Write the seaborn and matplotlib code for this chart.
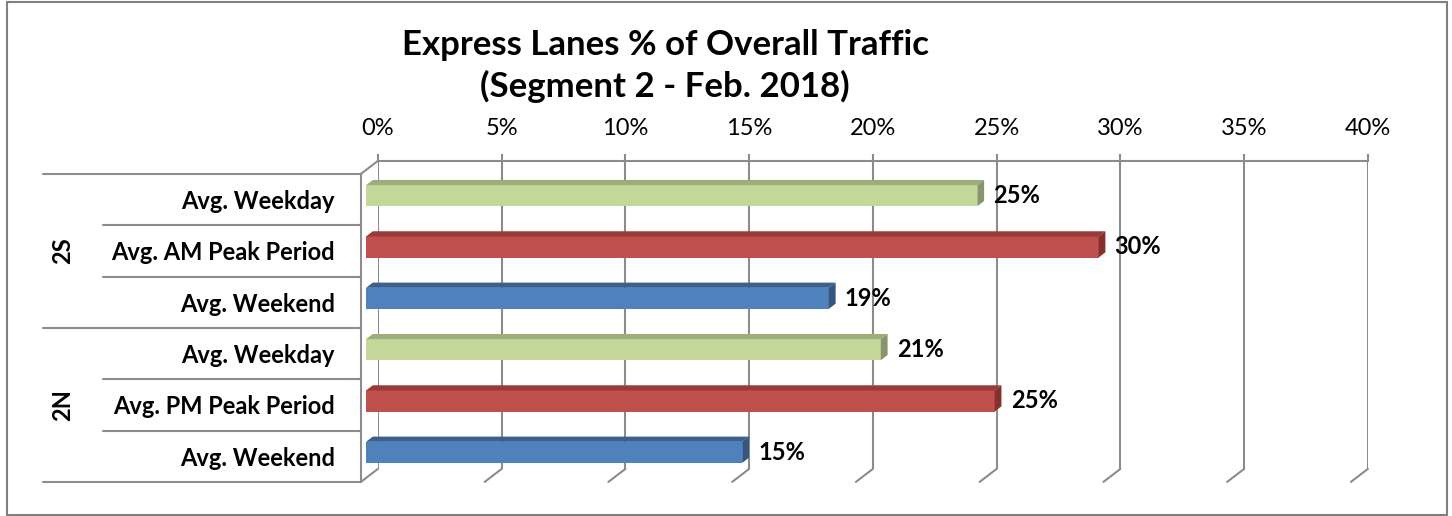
import numpy as np
import pandas as pd
import matplotlib
matplotlib.use("Agg")
import matplotlib.pyplot as plt
import seaborn as sns
from matplotlib.lines import Line2D
from matplotlib.patches import Polygon, Rectangle
from matplotlib.transforms import ScaledTranslation

# ---------------- data ----------------
segments = ["2S", "2S", "2S", "2N", "2N", "2N"]
periods = ["Avg. Weekday", "Avg. AM Peak Period", "Avg. Weekend",
           "Avg. Weekday", "Avg. PM Peak Period", "Avg. Weekend"]
period_types = ["Weekday", "Peak", "Weekend", "Weekday", "Peak", "Weekend"]
shares = [24.7, 29.6, 18.7, 20.8, 25.4, 15.2]
x_ticks = [0, 5, 10, 15, 20, 25, 30, 35, 40]
x_tick_labels = ["0%", "5%", "10%", "15%", "20%", "25%", "30%", "35%", "40%"]
title = "Express Lanes % of Overall Traffic\n(Segment 2 - Feb. 2018)"

front_colors = {"Weekday": "#C4D79B", "Peak": "#C0504D", "Weekend": "#4F81BD"}
top_colors = {"Weekday": "#9DAD7B", "Peak": "#973A38", "Weekend": "#3A6090"}
side_colors = {"Weekday": "#86956A", "Peak": "#86302E", "Weekend": "#33557F"}
GRID = "#8C8C8C"

keys = [f"{s} | {p}" for s, p in zip(segments, periods)]
df = pd.DataFrame({"key": keys, "share": shares, "type": period_types})

# ---------------- figure ----------------
W, H, DPI = 1452, 516, 100
sns.set_theme(style="white")
plt.rcParams["font.family"] = ["Lato", "DejaVu Sans"]

fig = plt.figure(figsize=(W / DPI, H / DPI), dpi=DPI)
fig.patch.set_facecolor("white")

DX, DY = 17.0, 13.0          # depth vector in display px (right, up)
BAR_F, BAR_B = 0.3, 0.7      # bar front/back depth fraction
LBL = 17


def rect(l, t, w, h):
    return [l / W, (H - t - h) / H, w / W, h / H]


AXL, AXT, AXW, AXH = 366, 170, 990, 308
ax_back = fig.add_axes(rect(AXL + BAR_B * DX, AXT - BAR_B * DY, AXW, AXH), zorder=0)
ax = fig.add_axes(rect(AXL, AXT, AXW, AXH), zorder=2)
ax.set_facecolor("none")

n = len(shares)
ylims = (n - 0.5, -0.5)

# back wall: gridlines and top ticks
ax_back.set_xlim(0, 40)
ax_back.set_ylim(*ylims)
ax_back.set_xticks(x_ticks)
ax_back.set_xticklabels(x_tick_labels)
ax_back.set_yticks([])
ax_back.xaxis.tick_top()
ax_back.tick_params(axis="x", length=5, width=1.5, color=GRID, pad=11,
                    labelsize=17, labelcolor="black", top=True, bottom=False)
ax_back.grid(axis="x", color=GRID, linewidth=1.5)
for s in ["left", "right", "bottom"]:
    ax_back.spines[s].set_visible(False)
ax_back.spines["top"].set_color(GRID)
ax_back.spines["top"].set_linewidth(1.5)

# bars (front faces)
sns.barplot(data=df, x="share", y="key", hue="type", order=keys,
            palette=front_colors, dodge=False, width=0.41, orient="h",
            legend=False, saturation=1, linewidth=0, ax=ax)
ax.set_xlim(0, 40)
ax.set_ylim(*ylims)
ax.xaxis.set_visible(False)
for s in ax.spines.values():
    s.set_visible(False)
ax.set_ylabel("")
ax.set_yticks(range(n))
ax.set_yticklabels(periods, fontweight="bold")
ax.tick_params(axis="y", length=0, pad=31 * 0.72, labelsize=LBL, labelcolor="black")
for lab in ax.get_yticklabels():
    lab.set_transform(lab.get_transform() + ScaledTranslation(0, -4 / DPI, fig.dpi_scale_trans))

inv = ax.transData.inverted()
ddx, ddy = (BAR_B - BAR_F) * DX, (BAR_B - BAR_F) * DY
for p in ax.patches:
    x0, y0 = p.get_x(), p.get_y()
    x1, y1 = x0 + p.get_width(), y0 + p.get_height()
    if p.get_width() <= 0:
        continue
    idx = int(round((y0 + y1) / 2))
    t = period_types[idx]
    (dx0, dya), (dx1, dyb) = ax.transData.transform([(x0, y0), (x1, y1)])
    ytop, ybot = max(dya, dyb), min(dya, dyb)
    top = [(dx0, ytop), (dx1, ytop), (dx1 + ddx, ytop + ddy), (dx0 + ddx, ytop + ddy)]
    side = [(dx1, ybot), (dx1, ytop), (dx1 + ddx, ytop + ddy), (dx1 + ddx, ybot + ddy)]
    ax.add_patch(Polygon(inv.transform(top), closed=True, facecolor=top_colors[t],
                         edgecolor="none", zorder=3, clip_on=False))
    ax.add_patch(Polygon(inv.transform(side), closed=True, facecolor=side_colors[t],
                         edgecolor="none", zorder=3, clip_on=False))

# data labels
for i, v in enumerate(shares):
    ax.annotate(f"{round(v)}%", xy=(v, i), xytext=(16 * 0.72, 0),
                textcoords="offset points", ha="left", va="center",
                fontweight="bold", fontsize=LBL, color="black")


# ---------------- 3D frame lines ----------------
def front_pt(x, y):
    d = ax.transData.transform((x, y))
    return (d[0] - BAR_F * DX, d[1] - BAR_F * DY)


def back_pt(x, y):
    d = ax.transData.transform((x, y))
    return (d[0] + (1 - BAR_F) * DX, d[1] + (1 - BAR_F) * DY)


def fig_line(p, q, **kw):
    fig.add_artist(Line2D([p[0] / W, q[0] / W], [p[1] / H, q[1] / H],
                          transform=fig.transFigure, color=GRID, linewidth=1.5, **kw))


ytop_b, ybot_b = -0.5, n - 0.5
fig_line(front_pt(0, ytop_b), front_pt(0, ybot_b))
fig_line(front_pt(0, ytop_b), back_pt(0, ytop_b))
for t in x_ticks:
    fig_line(back_pt(t, ybot_b), front_pt(t, ybot_b))

group_edges = [-0.5, 2.5, 5.5]
for b in np.arange(-0.5, n, 1.0):
    p = front_pt(0, b)
    xl = 43 if any(abs(b - g) < 1e-6 for g in group_edges) else 103
    fig_line(p, (xl, p[1]))

# group labels
for seg, mid in [("2S", 1), ("2N", 4)]:
    yc = front_pt(0, mid)[1]
    fig.text(63 / W, yc / H, seg, rotation=90, ha="center", va="center",
             fontweight="bold", fontsize=LBL, color="black")

# title
fig.text(665 / W, 1 - 66 / H, title, ha="center", va="center",
         fontweight="bold", fontsize=25, linespacing=1.3, color="black")

# outer border
fig.patches.append(Rectangle((7 / W, 1 / H), 1440 / W, 513 / H, transform=fig.transFigure,
                             fill=False, edgecolor="#808080", linewidth=1.5))

fig.savefig("out.png", dpi=DPI, facecolor="white")
